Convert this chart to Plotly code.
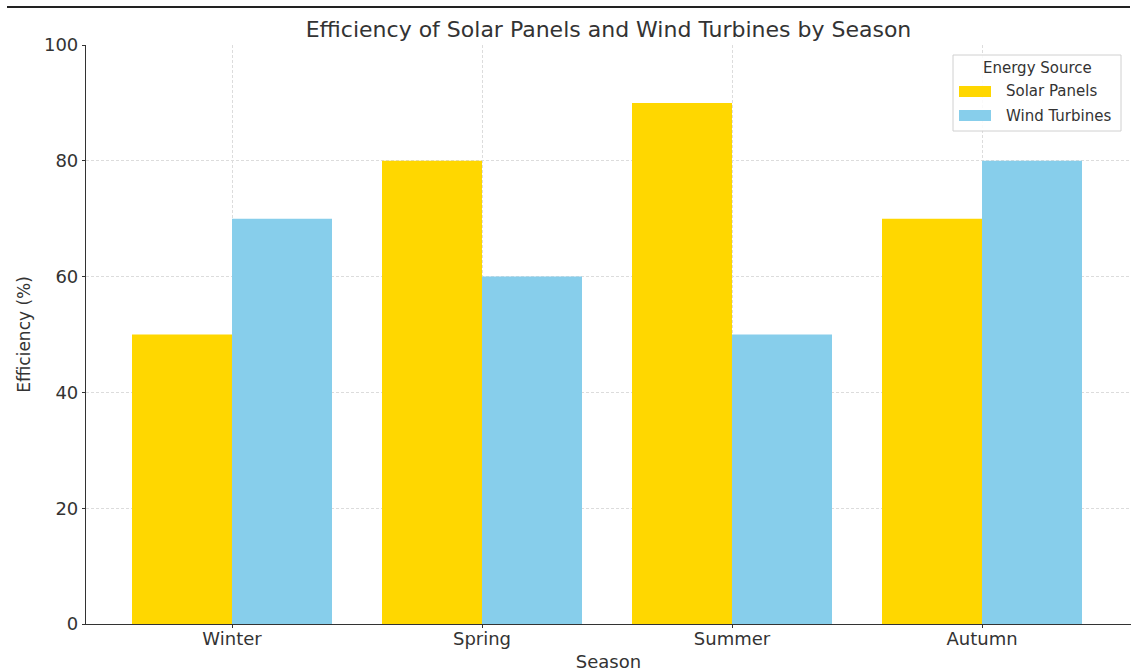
import plotly.graph_objects as go

seasons = ["Winter", "Spring", "Summer", "Autumn"]
solar = [50, 80, 90, 70]
wind = [70, 60, 50, 80]
y_ticks = [0, 20, 40, 60, 80, 100]
series_names = ["Solar Panels", "Wind Turbines"]
series_colors = ["#FFD700", "#87CEEB"]

pos = list(range(len(seasons)))
bw = 0.4
font = "DejaVu Sans"

# plot-area geometry (px) for converting paper coordinates
L, R, T, B = 86, 1131, 45, 624
PW, PH = R - L, B - T
def px(x):
    return (x - L) / PW
def py(y):
    return (B - y) / PH

fig = go.Figure()
fig.add_trace(go.Bar(x=[p - bw / 2 for p in pos], y=solar, width=bw, name=series_names[0],
                     marker=dict(color=series_colors[0], line=dict(width=0)), showlegend=False))
fig.add_trace(go.Bar(x=[p + bw / 2 for p in pos], y=wind, width=bw, name=series_names[1],
                     marker=dict(color=series_colors[1], line=dict(width=0)), showlegend=False))

shapes = [dict(type="line", xref="paper", yref="paper",
               x0=px(7), x1=px(1130), y0=py(7), y1=py(7),
               line=dict(color="#222222", width=2))]
# legend box
shapes.append(dict(type="rect", xref="paper", yref="paper",
                   x0=px(953), x1=px(1121), y0=py(131), y1=py(55),
                   fillcolor="rgba(255,255,255,0.85)", line=dict(color="#d0d0d0", width=1), layer="above"))
annotations = [dict(text="Energy Source", xref="paper", yref="paper", x=px(1037), y=py(68),
                    xanchor="center", yanchor="middle", showarrow=False,
                    font=dict(size=15, color="#333333"))]
for i, (nm, col) in enumerate(zip(series_names, series_colors)):
    yc = 91.5 + i * 24
    shapes.append(dict(type="rect", xref="paper", yref="paper",
                       x0=px(959), x1=px(991), y0=py(yc + 5.5), y1=py(yc - 5.5),
                       fillcolor=col, line=dict(width=0), layer="above"))
    annotations.append(dict(text=nm, xref="paper", yref="paper", x=px(1004), y=py(yc),
                            xanchor="left", yanchor="middle", showarrow=False,
                            font=dict(size=15, color="#333333")))

fig.update_layout(
    width=1134, height=672,
    margin=dict(l=L, r=1134 - R, t=T, b=672 - B),
    paper_bgcolor="white", plot_bgcolor="white",
    barmode="overlay",
    font=dict(family=font, color="#333333", size=16),
    title=dict(text="Efficiency of Solar Panels and Wind Turbines by Season",
               x=0.5, xref="paper", xanchor="center", y=1 - 29 / 672, yanchor="middle",
               font=dict(size=22, color="#333333")),
    xaxis=dict(range=[-0.584, 3.596], tickvals=pos, ticktext=seasons,
               showgrid=True, gridcolor="#dcdcdc", griddash="3px,2px", gridwidth=1,
               showline=True, linecolor="#333333", linewidth=1.2,
               ticks="outside", ticklen=3, tickcolor="#333333",
               tickfont=dict(size=18, color="#333333"), ticklabelstandoff=-5,
               title=dict(text="Season", font=dict(size=18, color="#333333"), standoff=8),
               zeroline=False),
    yaxis=dict(range=[0, 100], tickvals=y_ticks,
               showgrid=True, gridcolor="#dcdcdc", griddash="3px,2px", gridwidth=1,
               showline=True, linecolor="#333333", linewidth=1.2,
               ticks="outside", ticklen=3, tickcolor="#333333",
               tickfont=dict(size=18, color="#333333"),
               title=dict(text="Efficiency (%)", font=dict(size=17, color="#333333"), standoff=8),
               zeroline=False),
    shapes=shapes,
    annotations=annotations,
)

fig.write_html("out.html")
